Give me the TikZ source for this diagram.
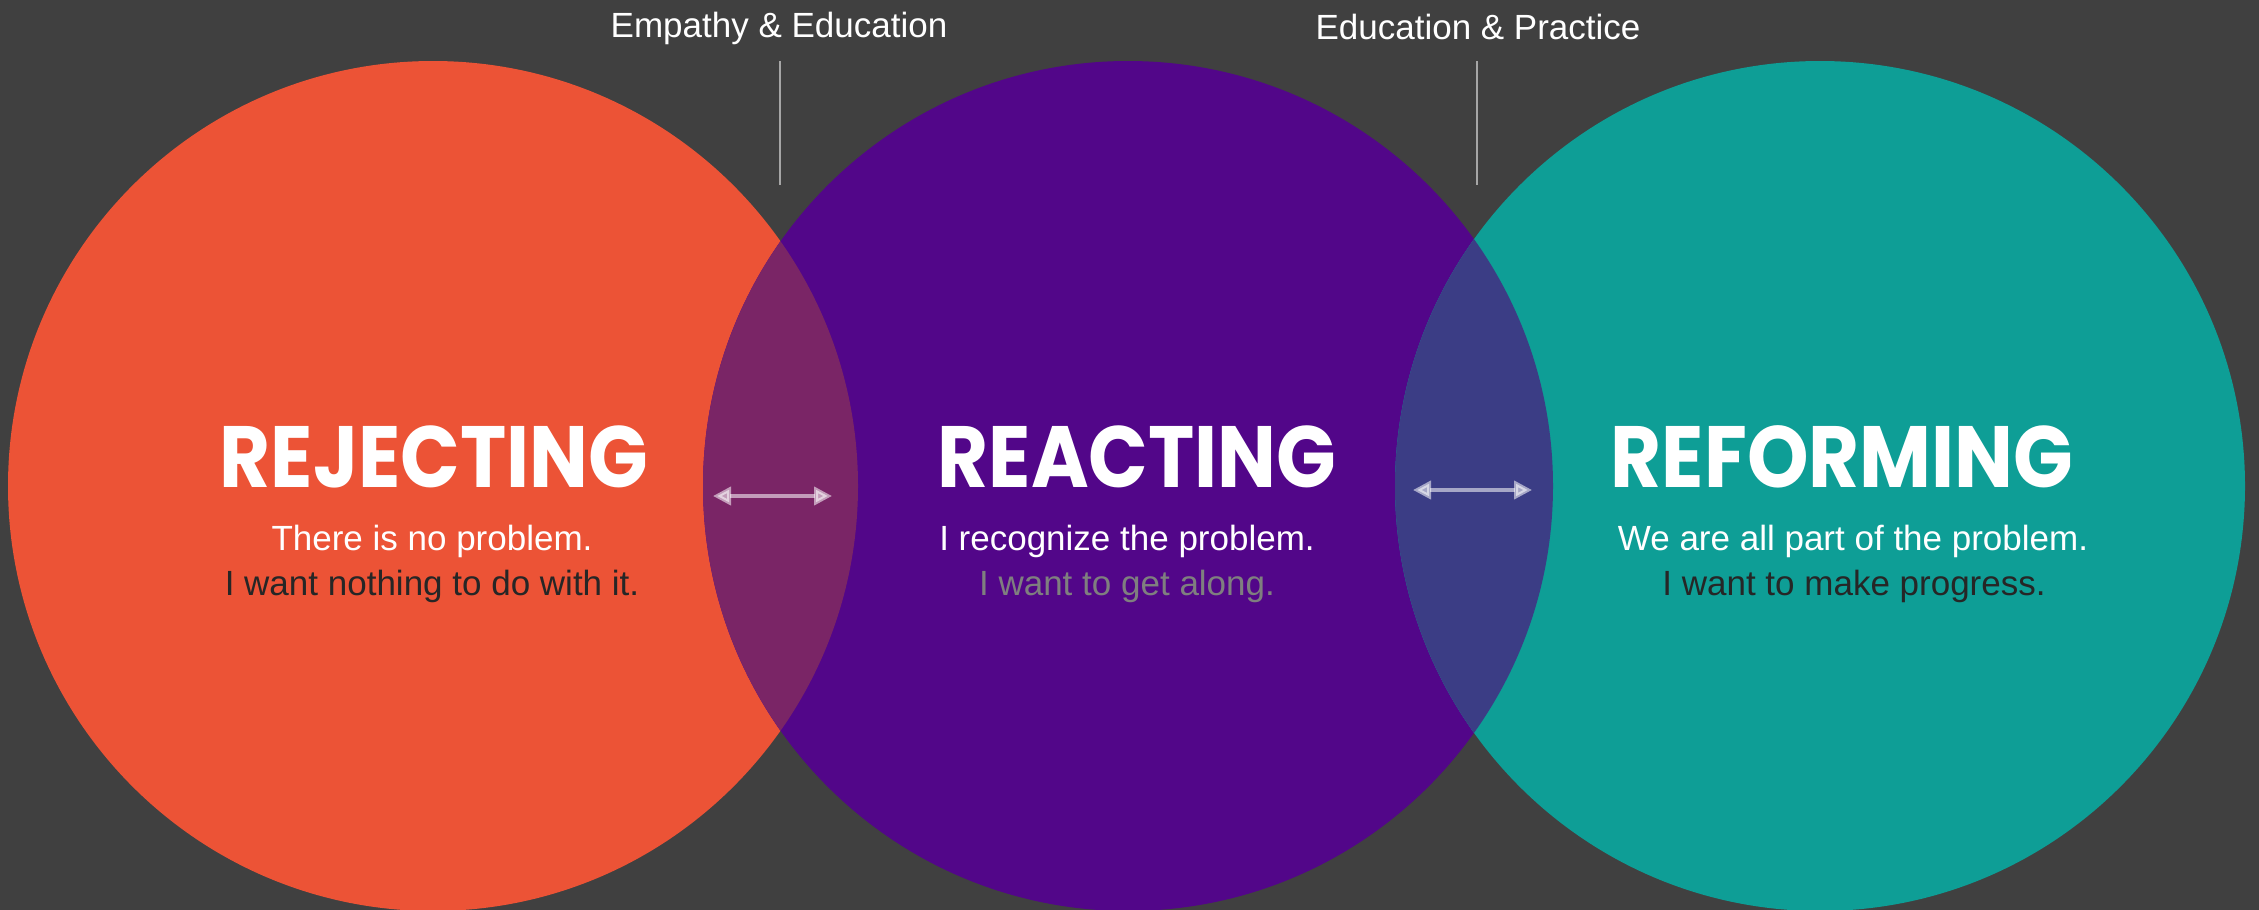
\documentclass[tikz,border=0pt]{standalone}
\usepackage{fontspec}
\setmainfont{Liberation Sans}
\newfontfamily\titlefont{Poppins}[FakeStretch=0.90]
\usetikzlibrary{arrows.meta}
\definecolor{bg}{HTML}{404040}
\definecolor{cOrange}{HTML}{EC5336}
\definecolor{cPurple}{HTML}{520689}
\definecolor{cTeal}{HTML}{0E9E96}
\definecolor{cOvA}{HTML}{7A2566}
\definecolor{cOvB}{HTML}{3B3D85}
\definecolor{cDark}{HTML}{262626}
\definecolor{cGrayTxt}{HTML}{7F7F7F}
\definecolor{cLine}{HTML}{A6A6A6}
\tikzset{
  x=1pt, y=-1pt,
  bubble/.style={circle, inner sep=0pt, minimum size=850pt},
  titletxt/.style={anchor=base, inner sep=0pt, text=white, font=\titlefont\bfseries\fontsize{87}{90}\selectfont},
  bodytxt/.style={anchor=base, inner sep=0pt, font=\fontsize{35}{40}\selectfont},
  toptxt/.style={anchor=base, inner sep=0pt, text=white, font=\fontsize{35}{40}\selectfont},
  tick/.style={draw=cLine, line width=2pt},
  dblarrow/.style={draw=white, draw opacity=0.55, fill opacity=0.55, line width=4pt, {Triangle[length=18pt,width=18pt]}-{Triangle[length=18pt,width=18pt]}}
}
\begin{document}
\begin{tikzpicture}
\useasboundingbox (0,0) rectangle (2259,910);
\clip (0,0) rectangle (2259,910);
\fill[bg] (0,0) rectangle (2259,910);
% circles
\node[bubble, fill=cOrange] (rej) at (433,486) {};
\node[bubble, fill=cPurple] (rea) at (1128,486) {};
\node[bubble, fill=cTeal] (ref) at (1820,486) {};
% overlaps
\begin{scope}
  \clip (433,486) circle[radius=425];
  \fill[cOvA] (1128,486) circle[radius=425];
\end{scope}
\begin{scope}
  \clip (1128,486) circle[radius=425];
  \fill[cOvB] (1820,486) circle[radius=425];
\end{scope}
% top labels and ticks
\node[toptxt] (lblA) at (779,37) {Empathy \& Education};
\node[toptxt] (lblB) at (1478,39) {Education \& Practice};
\coordinate (tAtop) at (780,61);
\coordinate (tAbot) at (780,185);
\coordinate (tBtop) at (1477,61);
\coordinate (tBbot) at (1477,185);
\draw[tick] (tAtop) -- (tAbot);
\draw[tick] (tBtop) -- (tBbot);
% arrows
\coordinate (aAl) at (713,496);
\coordinate (aAr) at (832,496);
\coordinate (aBl) at (1413,490);
\coordinate (aBr) at (1532,490);
\draw[dblarrow] (aAl) -- (aAr);
\draw[dblarrow] (aBl) -- (aBr);
% titles
\node[titletxt] (tRej) at (434,487) {REJECTING};
\node[titletxt] (tRea) at (1137,487) {REACTING};
\node[titletxt] (tRef) at (1842,487) {REFORMING};
% body text
\node[bodytxt, text=white] (rej1) at (432,550) {There is no problem.};
\node[bodytxt, text=cDark] (rej2) at (432,595) {I want nothing to do with it.};
\node[bodytxt, text=white] (rea1) at (1127,550) {I recognize the problem.};
\node[bodytxt, text=cGrayTxt] (rea2) at (1127,595) {I want to get along.};
\node[bodytxt, text=white] (ref1) at (1853,550) {We are all part of the problem.};
\node[bodytxt, text=cDark] (ref2) at (1854,595) {I want to make progress.};
\end{tikzpicture}
\end{document}
